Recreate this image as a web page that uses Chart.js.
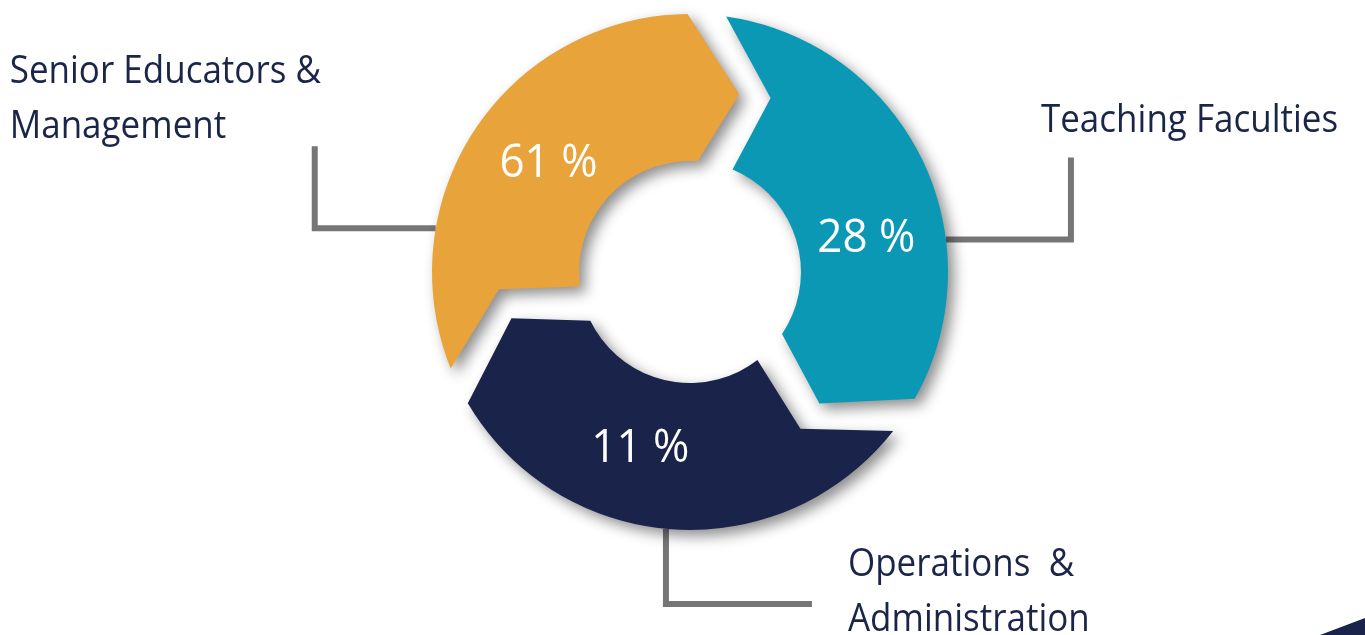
<!DOCTYPE html>
<html>
<head>
<meta charset="utf-8">
<title>Staff distribution</title>
<script src="https://cdn.jsdelivr.net/npm/chart.js@4.4.1/dist/chart.umd.min.js"></script>
<style>
  html, body { margin: 0; padding: 0; background: #fff; overflow: hidden; }
  #wrap { position: relative; width: 1365px; height: 635px; }
  #corner { position: absolute; right: 0; bottom: 0; width: 45px; height: 17px; background: #1a2349;
            clip-path: polygon(100% 0, 100% 100%, 0 100%); }
</style>
</head>
<body>
<div id="wrap">
  <canvas id="staffChart"></canvas>
  <div id="corner"></div>
</div>
<script>
// data
const groups = ['Senior Educators & Management', 'Teaching Faculties', 'Operations & Administration'];
const groupLines = [['Senior Educators &', 'Management'], ['Teaching Faculties'], ['Operations  &', 'Administration']];
const shares = [61, 28, 11];     // percentages printed on the ring
const arcSizes = [1, 1, 1];      // the infographic draws three equal arcs
const colors = ['#e8a33a', '#0a98b5', '#1a2349'];

const rad = d => d * Math.PI / 180;
const pt = (x, y, r, a) => ({ x: x + r * Math.cos(a), y: y + r * Math.sin(a) });

// chevron cut at each slice boundary (degrees)
const cut = { gap: 4.3, tip: 16, tipInner: 4.5, notch: 16.8, notchInner: 14.5, tipR: 0.5, notchR: 0.55 };

// where the percentage sits (shift from slice middle, degrees)
const valueShift = [4.45, 14.7, 12.25];

// callout lines: attach angle (from slice middle), legs in px, text offset from line end
const callouts = [
  { at: -24, legs: [[-121, 0], [0, -82]], dx: -305, dy: [-63, -8] },
  { at: 19,  legs: [[125, 0], [0, -82]],  dx: -30,  dy: [-25] },
  { at: 1.6, legs: [[0, 75], [146, 0]],   dx: 36,   dy: [-28, 27] }
];

function chevronPath(ctx, arc) {
  const { x, y, startAngle, endAngle, innerRadius: ri, outerRadius: ro } =
    arc.getProps(['x', 'y', 'startAngle', 'endAngle', 'innerRadius', 'outerRadius'], true);
  const s0 = startAngle + rad(cut.gap), e0 = endAngle - rad(cut.gap);
  ctx.beginPath();
  ctx.arc(x, y, ro, s0, e0);
  let p = pt(x, y, ri + cut.tipR * (ro - ri), e0 + rad(cut.tip));
  ctx.lineTo(p.x, p.y);
  ctx.arc(x, y, ri, e0 + rad(cut.tipInner), s0 + rad(cut.notchInner), true);
  p = pt(x, y, ri + cut.notchR * (ro - ri), s0 + rad(cut.notch));
  ctx.lineTo(p.x, p.y);
  ctx.closePath();
}

function stretchedText(ctx, text, x, y, sy) {
  ctx.save();
  ctx.translate(x, y);
  ctx.scale(1, sy);
  ctx.fillText(text, 0, 0);
  ctx.restore();
}

const ringPlugin = {
  id: 'ring',
  beforeDatasetDraw(chart, args) {
    const ctx = chart.ctx;
    const arcs = args.meta.data;

    // callout lines go under the ring
    ctx.save();
    ctx.strokeStyle = '#767676';
    ctx.lineWidth = 6;
    ctx.lineJoin = 'miter';
    ctx.lineCap = 'butt';
    arcs.forEach((arc, i) => {
      const c = callouts[i];
      const { x, y, startAngle, endAngle, outerRadius } =
        arc.getProps(['x', 'y', 'startAngle', 'endAngle', 'outerRadius'], true);
      const a = (startAngle + endAngle) / 2 + rad(c.at);
      let p = pt(x, y, outerRadius, a);
      ctx.beginPath();
      ctx.moveTo(p.x, p.y);
      c.legs.forEach(l => { p = { x: p.x + l[0], y: p.y + l[1] }; ctx.lineTo(p.x, p.y); });
      ctx.stroke();
      c.end = p;
    });
    ctx.restore();

    // slices with chevron ends and a soft drop shadow
    arcs.forEach((arc, i) => {
      ctx.save();
      ctx.shadowColor = 'rgba(0,0,0,0.45)';
      ctx.shadowBlur = 14;
      ctx.shadowOffsetX = 6;
      ctx.shadowOffsetY = 6;
      ctx.fillStyle = colors[i];
      chevronPath(ctx, arc);
      ctx.fill();
      ctx.restore();
    });
    return false;
  },
  afterDatasetsDraw(chart) {
    const ctx = chart.ctx;
    const arcs = chart.getDatasetMeta(0).data;
    ctx.save();
    arcs.forEach((arc, i) => {
      const { x, y, startAngle, endAngle, innerRadius: ri, outerRadius: ro } =
        arc.getProps(['x', 'y', 'startAngle', 'endAngle', 'innerRadius', 'outerRadius'], true);
      const a = (startAngle + endAngle) / 2 + rad(valueShift[i]);
      const p = pt(x, y, ri + 0.47 * (ro - ri), a);
      ctx.fillStyle = '#ffffff';
      ctx.font = '44px "Open Sans"';
      ctx.textAlign = 'center';
      ctx.textBaseline = 'alphabetic';
      stretchedText(ctx, shares[i] + ' %', p.x, p.y + 16.5, 1.05);

      const c = callouts[i];
      ctx.fillStyle = '#1b2549';
      ctx.font = '35px "Open Sans"';
      ctx.textAlign = 'left';
      groupLines[i].forEach((line, k) => stretchedText(ctx, line, c.end.x + c.dx, c.end.y + c.dy[k], 1.08));
    });
    ctx.restore();
  }
};

new Chart(document.getElementById('staffChart'), {
  type: 'doughnut',
  data: {
    labels: groups,
    datasets: [{
      data: arcSizes,
      backgroundColor: colors,
      borderWidth: 0,
      hoverOffset: 0
    }]
  },
  options: {
    responsive: true,
    maintainAspectRatio: false,
    animation: false,
    rotation: 243.75,
    cutout: '43%',
    layout: { padding: { left: 432, right: 417, top: 14, bottom: 105 } },
    events: [],
    plugins: {
      legend: { display: false },
      tooltip: { enabled: false }
    }
  },
  plugins: [ringPlugin]
});
</script>
</body>
</html>
